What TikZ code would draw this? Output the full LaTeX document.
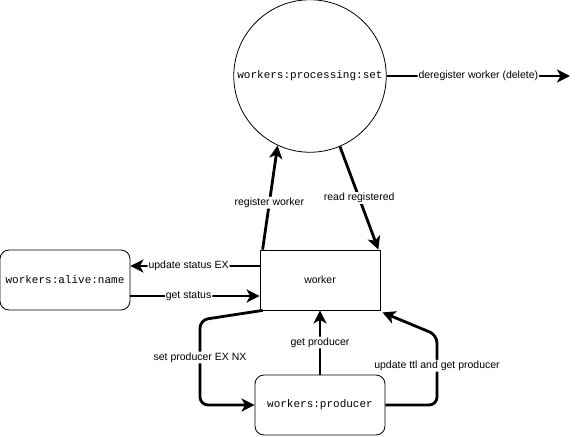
\documentclass[tikz,border=0pt]{standalone}
\usepackage{fontspec}
\setmainfont{Liberation Sans}
\newfontfamily\keyfont{Liberation Mono}
\usetikzlibrary{arrows.meta, shapes.geometric, positioning, calc}

\tikzset{
  store/.style={draw, line width=0.8pt, rounded corners=9pt,
                minimum width=130pt, minimum height=60pt,
                font=\keyfont\fontsize{11}{13}\selectfont},
  flow/.style={line width=2.8pt, -{Stealth[length=13pt,width=13pt,inset=3.5pt]},
               rounded corners=8pt},
  lbl/.style={fill=white, inner sep=1pt, font=\fontsize{10.5}{12}\selectfont}
}

\begin{document}
\begin{tikzpicture}[x=1pt, y=-1pt]
  \useasboundingbox (0,0) rectangle (580,436);

  % keys and the worker
  \node[draw, circle, line width=0.8pt, minimum size=152pt,
        font=\keyfont\fontsize{11}{13}\selectfont] (set) at (310,76)
        {workers:processing:set};
  \node[draw, line width=0.8pt, minimum width=120pt, minimum height=60pt,
        font=\fontsize{10.5}{12}\selectfont] (worker) at (320,280) {worker};
  \node[store] (alive) at (65,280) {workers:alive:name};
  \node[store] (producer) at (320,405) {workers:producer};

  \coordinate (gone) at (570,76);
  \coordinate (setbend) at (200,320);
  \coordinate (ttlbend) at (437,335);

  % connectors
  \draw[flow] (set.east) -- node[lbl, pos=0.5] {deregister worker (delete)} (gone);
  \draw[flow] ([xshift=3pt]worker.north west) -- node[lbl, pos=0.45] {register worker} (set.245);
  \draw[flow] (set.293) -- node[lbl, pos=0.5] {read registered} ([xshift=-2pt]worker.north east);
  \draw[flow] ([yshift=14pt]worker.west) -- node[lbl, pos=0.55] {update status EX} ([yshift=14pt]alive.east);
  \draw[flow] ([yshift=-16pt]alive.east) -- node[lbl, pos=0.45] {get status} ([yshift=-16pt]worker.west);
  \draw[flow] (producer.north) -- node[lbl, pos=0.5] {get producer} (worker.south);
  \draw[flow] ([xshift=3pt]worker.south west) -- (setbend)
    |- node[lbl, pos=0.22] {set producer EX NX} (producer.west);
  \draw[flow] (producer.east) -| node[lbl, pos=0.78] {update ttl and get producer} (ttlbend)
    -- ([xshift=2pt,yshift=-2pt]worker.south east);
\end{tikzpicture}
\end{document}
